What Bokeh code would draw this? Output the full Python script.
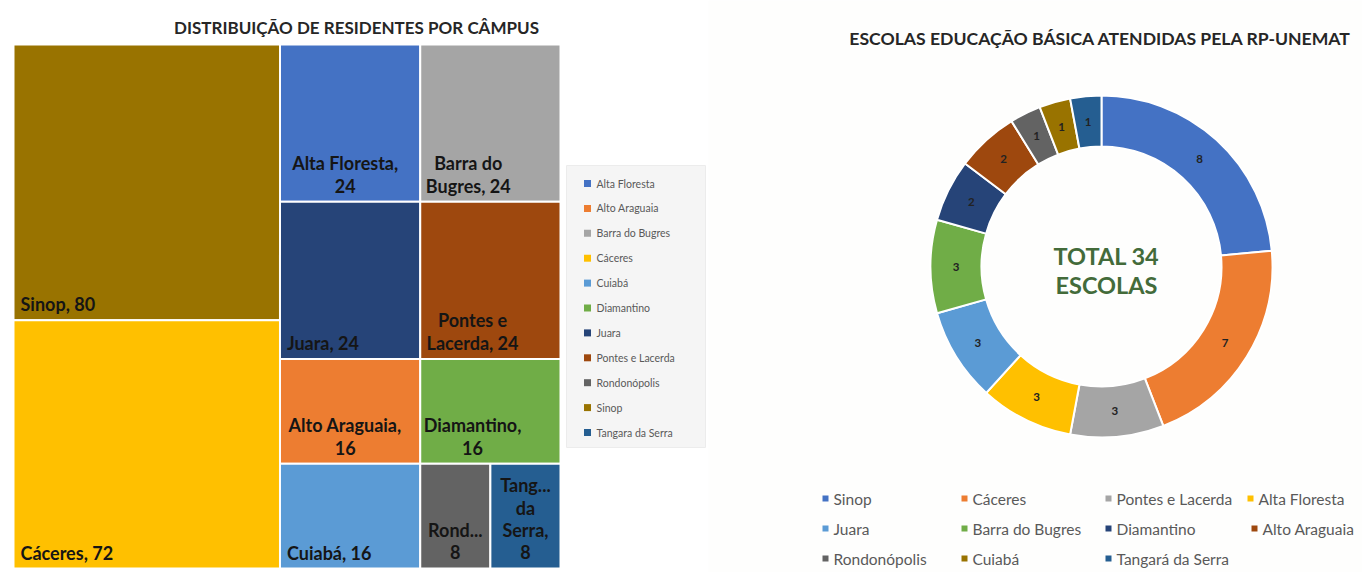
import numpy as np
from bokeh.plotting import figure
from bokeh.models import Range1d, ColumnDataSource
from bokeh.layouts import row
from bokeh.embed import file_html
from bokeh.resources import INLINE
from bokeh.core.properties import value

# ---------------- DATA ----------------
# Treemap: residents per campus (legend order)
tm_campus = ["Alta Floresta", "Alto Araguaia", "Barra do Bugres", "Cáceres", "Cuiabá",
             "Diamantino", "Juara", "Pontes e Lacerda", "Rondonópolis", "Sinop",
             "Tangara da Serra"]
tm_residents = [24, 16, 24, 72, 16, 16, 24, 24, 8, 80, 8]
tm_labels = ["Alta Floresta,\n24", "Alto Araguaia,\n16", "Barra do\nBugres, 24", "Cáceres, 72",
             "Cuiabá, 16", "Diamantino,\n16", "Juara, 24", "Pontes e\nLacerda, 24",
             "Rond...\n8", "Sinop, 80", "Tang...\nda\nSerra,\n8"]
tm_colors = ["#4472C4", "#ED7D31", "#A5A5A5", "#FFC000", "#5B9BD5", "#70AD47",
             "#264478", "#9E480E", "#636363", "#997300", "#255E91"]
tm_title = "DISTRIBUIÇÃO DE RESIDENTES POR CÂMPUS"

# Donut: basic-education schools served
dn_campus = ["Sinop", "Cáceres", "Pontes e Lacerda", "Alta Floresta", "Juara",
             "Barra do Bugres", "Diamantino", "Alto Araguaia", "Rondonópolis",
             "Cuiabá", "Tangará da Serra"]
dn_schools = [8, 7, 3, 3, 3, 3, 2, 2, 1, 1, 1]
dn_colors = ["#4472C4", "#ED7D31", "#A5A5A5", "#FFC000", "#5B9BD5", "#70AD47",
             "#264478", "#9E480E", "#636363", "#997300", "#255E91"]
dn_title = "ESCOLAS EDUCAÇÃO BÁSICA ATENDIDAS PELA RP-UNEMAT"

FONT = value("Lato")

# ---------------- LAYOUT CONSTANTS ----------------
W1, W2, H = 708, 654, 572
TM_LEFT, TM_RIGHT, TM_TOP, TM_BOTTOM = 13, 560, 44, 568
# arrangement of the treemap: columns -> rows -> cells
TM_ARRANGE = [
    [["Sinop"], ["Cáceres"]],
    [["Alta Floresta", "Barra do Bugres"], ["Juara", "Pontes e Lacerda"],
     ["Alto Araguaia", "Diamantino"], ["Cuiabá", "Rondonópolis", "Tangara da Serra"]],
]

val = dict(zip(tm_campus, tm_residents))
lab = dict(zip(tm_campus, tm_labels))
col = dict(zip(tm_campus, tm_colors))


def layout_treemap():
    cells = []
    total = sum(sum(val[n] for r in c for n in r) for c in TM_ARRANGE)
    x = TM_LEFT
    for c in TM_ARRANGE:
        csum = sum(val[n] for r in c for n in r)
        w = (TM_RIGHT - TM_LEFT) * csum / total
        y = TM_TOP
        for r in c:
            rsum = sum(val[n] for n in r)
            h = (TM_BOTTOM - TM_TOP) * rsum / csum
            xx = x
            for n in r:
                cw = w * val[n] / rsum
                cells.append((n, xx, xx + cw, y, y + h))
                xx += cw
            y += h
        x += w
    return cells


cells = layout_treemap()

# ---------------- LEFT FIGURE (treemap) ----------------
p1 = figure(width=W1, height=H, x_range=Range1d(0, W1), y_range=Range1d(-H, 0),
            output_backend="svg", toolbar_location=None, min_border=0,
            x_axis_location=None, y_axis_location=None)
p1.grid.visible = False
p1.outline_line_color = None
p1.background_fill_color = "#ffffff"

src = ColumnDataSource(dict(
    left=[c[1] for c in cells], right=[c[2] for c in cells],
    top=[-c[3] for c in cells], bottom=[-c[4] for c in cells],
    color=[col[c[0]] for c in cells]))
p1.quad(left="left", right="right", top="top", bottom="bottom", source=src,
        fill_color="color", line_color="white", line_width=2)

# cell labels
lx_l, ly_l, lt_l = [], [], []
lx_c, ly_c, lt_c = [], [], []
for n, x0, x1, y0, y1 in cells:
    t = lab[n]
    if "\n" in t:
        est = max(len(s) for s in t.split("\n")) * 8.6
        lx_c.append(x0 + 5 + est / 2); ly_c.append(-y1 + 5); lt_c.append(t)
    else:
        lx_l.append(x0 + 7); ly_l.append(-y1 + 5); lt_l.append(t)
p1.text(x=lx_l, y=ly_l, text=lt_l, text_font=FONT, text_font_style="bold",
        text_font_size="18px", text_color="#151515", text_align="left",
        text_baseline="bottom", text_line_height=1.02)
p1.text(x=lx_c, y=ly_c, text=lt_c, text_font=FONT, text_font_style="bold",
        text_font_size="18px", text_color="#151515", text_align="center",
        text_baseline="bottom", text_line_height=1.02)

# title
p1.text(x=[356], y=[-27], text=[tm_title], text_font=FONT,
        text_font_style="bold", text_font_size="17px", text_color="#262626",
        text_align="center", text_baseline="middle")

# legend box
p1.quad(left=[566], right=[705], top=[-165], bottom=[-447], fill_color="#f5f5f5",
        line_color="#ececec", line_width=1)
ly = [-183 - 24.9 * i for i in range(len(tm_campus))]
p1.scatter(x=[587] * len(tm_campus), y=ly, marker="square", size=7,
           fill_color=tm_colors, line_color=None)
p1.text(x=[596] * len(tm_campus), y=ly, text=tm_campus, text_font=FONT,
        text_font_size="10.5px", text_color="#595959", text_align="left",
        text_baseline="middle")

# ---------------- RIGHT FIGURE (donut) ----------------
p2 = figure(width=W2, height=H, x_range=Range1d(W1, W1 + W2), y_range=Range1d(-H, 0),
            output_backend="svg", toolbar_location=None, min_border=0,
            x_axis_location=None, y_axis_location=None)
p2.grid.visible = False
p2.outline_line_color = None
p2.background_fill_color = "#fefefd"

CX, CY, R_IN, R_OUT = 1101, -266, 120, 171
tot = sum(dn_schools)
cum = np.concatenate([[0], np.cumsum(dn_schools)])
start = np.pi / 2 - 2 * np.pi * cum[1:] / tot
end = np.pi / 2 - 2 * np.pi * cum[:-1] / tot
p2.annular_wedge(x=CX, y=CY, inner_radius=R_IN, outer_radius=R_OUT,
                 start_angle=start, end_angle=end, direction="anticlock",
                 fill_color=dn_colors, line_color="white", line_width=2)
mid = (start + end) / 2
rm = (R_IN + R_OUT) / 2
p2.text(x=CX + rm * np.cos(mid), y=CY + rm * np.sin(mid), text=[str(v) for v in dn_schools],
        text_font=FONT, text_font_style="bold", text_font_size="11.5px",
        text_color="#222222", text_align="center", text_baseline="middle")

p2.text(x=[CX + 5], y=[-270], text=[f"TOTAL {tot}\nESCOLAS"], text_font=FONT,
        text_font_style="bold", text_font_size="23.5px", text_color="#436B3A",
        text_align="center", text_baseline="middle", text_line_height=1.07)

p2.text(x=[1100], y=[-38], text=[dn_title], text_font=FONT, text_font_style="bold",
        text_font_size="17.6px", text_color="#262626", text_align="center",
        text_baseline="middle")

# donut legend (row-major slots)
LEG_ROWS = [-498, -528, -558]
LEG_SLOTS = [[825, 964, 1108, 1250], [825, 964, 1108, 1254], [825, 964, 1108]]
lgx, lgy = [], []
for ri, slots in enumerate(LEG_SLOTS):
    for sx in slots:
        lgx.append(sx); lgy.append(LEG_ROWS[ri])
p2.scatter(x=lgx, y=lgy, marker="square", size=6, fill_color=dn_colors, line_color=None)
p2.text(x=[v + 8 for v in lgx], y=lgy, text=dn_campus, text_font=FONT,
        text_font_size="15.5px", text_color="#595959", text_align="left",
        text_baseline="middle")

layout = row(p1, p2)
open("out.html", "w").write(file_html(layout, INLINE))
